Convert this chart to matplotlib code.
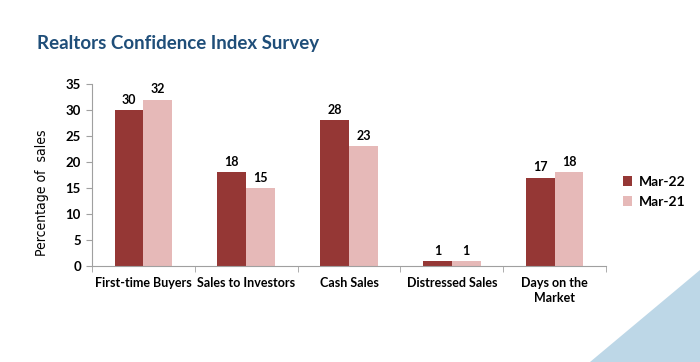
import matplotlib
matplotlib.use("Agg")
import matplotlib.pyplot as plt
import numpy as np
from matplotlib.patches import Polygon
from matplotlib import font_manager

categories = ["First-time Buyers", "Sales to Investors", "Cash Sales", "Distressed Sales", "Days on the\nMarket"]
mar22 = [30, 18, 28, 1, 17]
mar21 = [32, 15, 23, 1, 18]
series_names = ["Mar-22", "Mar-21"]
yticks = [0, 5, 10, 15, 20, 25, 30, 35]

dark = "#953735"
light = "#E6B9B8"
font = "Lato"

fig = plt.figure(figsize=(7, 3.62), dpi=100)
fig.patch.set_facecolor("white")

tri = Polygon([[590/700, 0], [1, 0], [1, 92/362]], closed=True, transform=fig.transFigure,
              facecolor="#BDD7E7", edgecolor="none", zorder=0)
fig.patches.append(tri)

fig.text(37/700, 1 - 43/362, "Realtors Confidence Index Survey", fontsize=13.5, fontweight="bold",
         color="#1F4E79", family=font, va="center", ha="left")

ax = fig.add_axes([92/700, 1 - 266/362, 514/700, 182/362])
x = np.arange(len(categories))
w = 0.28
b1 = ax.bar(x - w/2, mar22, w, color=dark, label=series_names[0])
b2 = ax.bar(x + w/2, mar21, w, color=light, label=series_names[1])

for bars, vals in ((b1, mar22), (b2, mar21)):
    for r, v in zip(bars, vals):
        ax.text(r.get_x() + r.get_width()/2, v + 0.8, str(v), ha="center", va="bottom",
                fontsize=9, fontweight="bold", family=font)

ax.set_xlim(-0.5, len(categories) - 0.5)
ax.set_ylim(0, 35)
ax.set_yticks(yticks)
ax.set_yticklabels([str(t) for t in yticks], fontsize=9.5, fontweight="bold", family=font)
ax.set_xticks(x)
ax.set_xticklabels(categories, fontsize=9, fontweight="bold", family=font, linespacing=1.3)
ax.tick_params(axis="x", length=0, pad=8)
ax.set_xticks(np.arange(len(categories) + 1) - 0.5, minor=True)
ax.tick_params(axis="x", which="minor", length=4, color="#A0A0A0", direction="out")
ax.tick_params(axis="y", length=4, color="#A0A0A0", direction="out", pad=4)
for s in ("top", "right"):
    ax.spines[s].set_visible(False)
ax.spines["left"].set_color("#A0A0A0")
ax.spines["bottom"].set_color("#A0A0A0")

names = {f.name for f in font_manager.fontManager.ttflist}
if "Liberation Sans Narrow" in names:
    ylab_kw = dict(family="Liberation Sans Narrow", fontsize=11)
else:
    ylab_kw = dict(family="DejaVu Sans", stretch="condensed", fontsize=10)
fig.text(42/700, 1 - 193/362, "Percentage of  sales", rotation=90,
         va="center", ha="center", **ylab_kw)

leg = fig.legend(handles=[b1, b2], labels=series_names, loc="upper left",
                 bbox_to_anchor=(610/700, 1 - 163/362), frameon=False,
                 prop={"family": font, "weight": "bold", "size": 10},
                 handlelength=0.7, handleheight=0.7, handletextpad=0.5, labelspacing=0.6)

fig.savefig("out.png", dpi=100, facecolor="white")
